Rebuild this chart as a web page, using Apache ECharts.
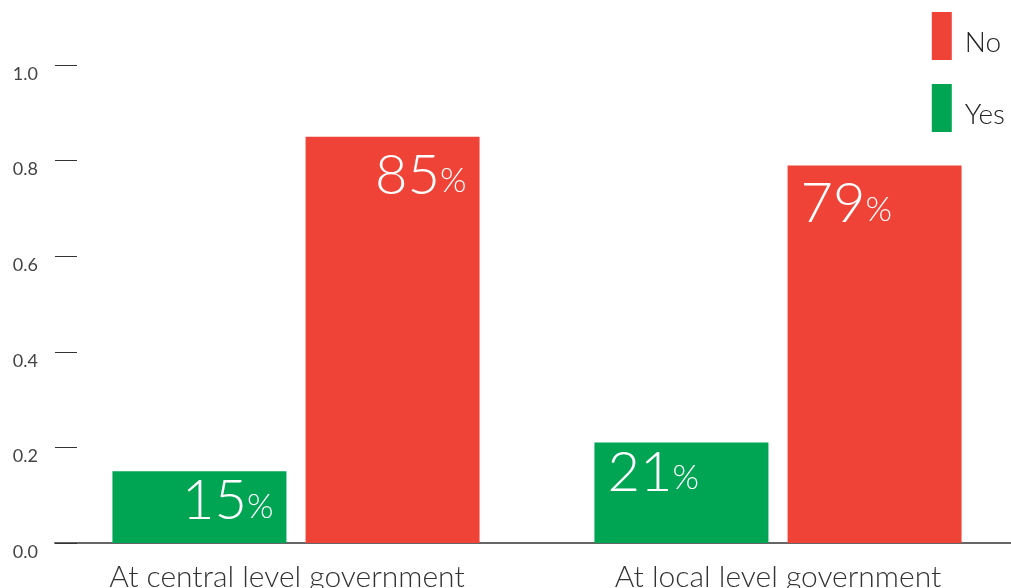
<!DOCTYPE html>
<html>
<head>
<meta charset="utf-8">
<script src="https://cdn.jsdelivr.net/npm/echarts@6/dist/echarts.min.js"></script>
<style>
    html, body { margin: 0; padding: 0; background: #fff; }
    #chart { width: 1011px; height: 588px; }
</style>
</head>
<body>
<div id="chart"></div>
<script>
    // data
    var categories = ['At central level government', 'At local level government'];
    var yesData = [0.15, 0.21];
    var noData = [0.85, 0.79];
    // where the % label sits inside each bar, per category
    var labelPos = ['insideTopRight', 'insideTopLeft'];

    var font = '"Source Sans Pro", Lato, "Open Sans", sans-serif';

    function pctLabel(params) {
        return '{n|' + Math.round(params.value * 100) + '}{p|%}';
    }

    function makeItems(values) {
        return values.map(function (v, i) {
            return {
                value: v,
                label: { position: labelPos[i] }
            };
        });
    }

    function barLabel(dy) {
        return {
            show: true,
            distance: 13,
            offset: [0, dy],
            formatter: pctLabel,
            rich: {
                n: { fontSize: 56, fontWeight: 300, color: '#fff', fontFamily: font },
                p: { fontSize: 34, fontWeight: 300, color: '#fff', fontFamily: font, padding: [11, 0, 0, 0] }
            }
        };
    }

    var myChart = echarts.init(document.getElementById('chart'));
    myChart.setOption({
        animation: false,
        textStyle: { fontFamily: font },
        grid: {
            left: 55,
            top: 65,
            width: 964,
            bottom: 45,
            containLabel: false,
            outerBoundsMode: 'none'
        },
        legend: {
            orient: 'vertical',
            right: 1,
            top: 7,
            data: ['No', 'Yes'],
            itemWidth: 20,
            itemHeight: 48,
            itemGap: 24,
            icon: 'rect',
            formatter: function (name) { return '{t|' + name + '}'; },
            textStyle: {
                rich: {
                    t: {
                        fontSize: 28,
                        fontWeight: 300,
                        color: '#222',
                        fontFamily: font,
                        padding: [14, 0, 0, 8]
                    }
                }
            }
        },
        xAxis: {
            type: 'category',
            data: [
                { value: categories[0], textStyle: { padding: [0, 18, 0, 0] } },
                { value: categories[1] }
            ],
            axisTick: { show: false },
            axisLine: { lineStyle: { color: '#666', width: 2 } },
            axisLabel: {
                fontSize: 30,
                fontWeight: 300,
                color: '#333',
                margin: 19,
                fontFamily: font
            }
        },
        yAxis: {
            type: 'value',
            min: 0,
            max: 1,
            interval: 0.2,
            splitLine: { show: false },
            axisLine: { show: false },
            axisTick: {
                show: true,
                inside: true,
                length: 22,
                lineStyle: { color: '#333', width: 1 }
            },
            axisLabel: {
                fontSize: 18,
                color: '#444',
                margin: 17,
                verticalAlign: 'top',
                fontFamily: font,
                formatter: function (v) { return v.toFixed(1); }
            }
        },
        series: [
            {
                name: 'Yes',
                type: 'bar',
                data: makeItems(yesData),
                barWidth: 174,
                barGap: '11%',
                itemStyle: { color: '#00a553' },
                label: barLabel(-11)
            },
            {
                name: 'No',
                type: 'bar',
                data: makeItems(noData),
                barWidth: 174,
                barGap: '11%',
                itemStyle: { color: '#ef4338' },
                label: barLabel(-2)
            }
        ]
    });
</script>
</body>
</html>
